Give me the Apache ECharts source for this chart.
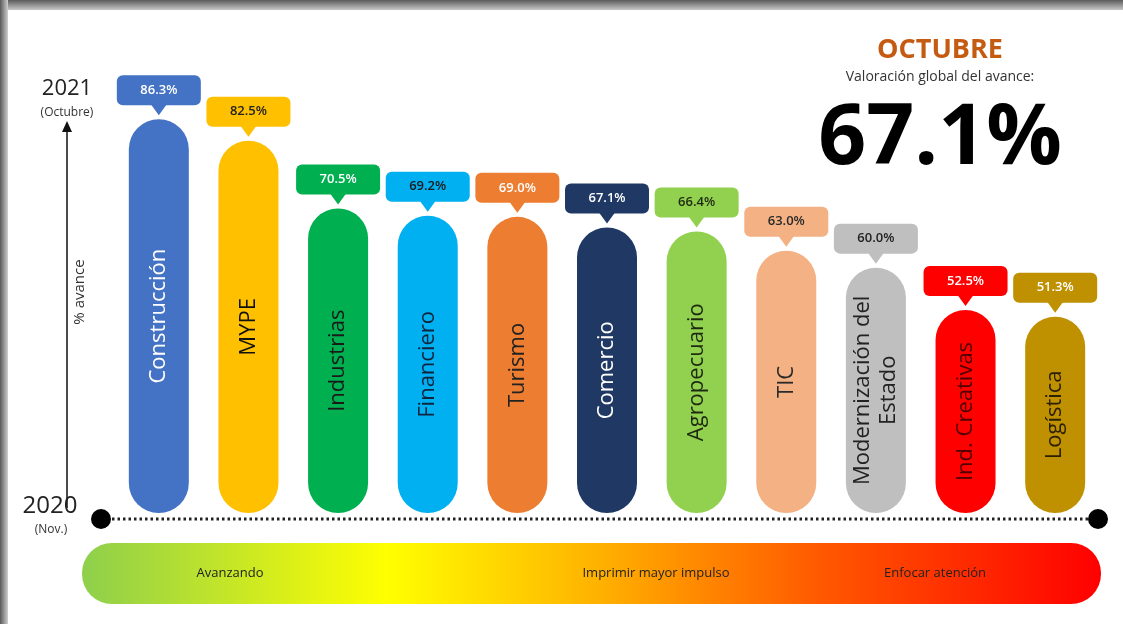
<!DOCTYPE html>
<html>
<head>
<meta charset="utf-8">
<script src="https://cdn.jsdelivr.net/npm/echarts@6/dist/echarts.min.js"></script>
<style>html,body{margin:0;padding:0;background:#fff}#c{width:1123px;height:624px}</style>
</head>
<body>
<div id="c"></div>
<script>
const categories = ['Construcción','MYPE','Industrias','Financiero','Turismo','Comercio','Agropecuario','TIC','Modernización del\nEstado','Ind. Creativas','Logística'];
const values = [86.3, 82.5, 70.5, 69.2, 69.0, 67.1, 66.4, 63.0, 60.0, 52.5, 51.3];
const barColors = ['#4472C4','#FFC000','#00B050','#00B0F0','#ED7D31','#1F3864','#92D050','#F4B183','#BFBFBF','#FF0000','#BF9000'];
const nameColors = ['#ffffff','#111111','#1a1a1a','#10243f','#222222','#ffffff','#1e2a10','#2a2a2a','#222222','#500000','#2b2000'];
const valueColors = ['#ffffff','#222222','#ffffff','#1a1a1a','#ffffff','#ffffff','#1e2a10','#2a2a2a','#222222','#ffffff','#ffffff'];
const zoneLabels = ['Avanzando','Imprimir mayor impulso','Enfocar atención'];

const chart = echarts.init(document.getElementById('c'));
const font = '"Open Sans", "Noto Sans", sans-serif';

const option = {
  backgroundColor: '#ffffff',
  animation: false,
  grid: {left: 114, right: 23, top: 42, bottom: 111},
  xAxis: {type: 'category', data: categories, show: false},
  yAxis: {type: 'value', min: 16.5, max: 100, show: false},
  series: [
    {
      type: 'bar',
      barWidth: 60,
      data: values.map((v, i) => ({
        value: v,
        itemStyle: {color: barColors[i], borderRadius: 30},
        label: {color: nameColors[i]}
      })),
      label: {
        show: true,
        position: 'inside',
        rotate: 90,
        fontFamily: font,
        fontSize: 22,
        lineHeight: 26,
        align: 'center',
        verticalAlign: 'middle',
        formatter: p => p.name
      }
    },
    {
      type: 'custom',
      z: 5,
      data: values.map((v, i) => [i, v]),
      renderItem: (params, api) => {
        const i = params.dataIndex;
        const p = api.coord([api.value(0), api.value(1)]);
        const x = p[0], top = p[1];
        const tipY = top - 4, boxB = tipY - 10, boxT = boxB - 30;
        const col = barColors[i];
        return {
          type: 'group',
          children: [
            {type: 'rect', shape: {x: x - 42, y: boxT, width: 84, height: 30, r: 6}, style: {fill: col}},
            {type: 'polygon', shape: {points: [[x - 8, boxB - 1], [x + 8, boxB - 1], [x, tipY]]}, style: {fill: col}},
            {type: 'text', style: {text: values[i].toFixed(1) + '%', x: x, y: boxT + 15, align: 'center', verticalAlign: 'middle', fill: valueColors[i], font: '600 13px ' + font}}
          ]
        };
      }
    }
  ],
  graphic: [
    {type: 'rect', shape: {x: 0, y: 0, width: 1123, height: 10}, style: {fill: new echarts.graphic.LinearGradient(0, 0, 0, 1, [{offset: 0, color: '#5a5a5a'}, {offset: 1, color: '#c8c8c8'}])}, z: 10},
    {type: 'rect', shape: {x: 0, y: 0, width: 8, height: 624}, style: {fill: new echarts.graphic.LinearGradient(0, 0, 1, 0, [{offset: 0, color: '#5a5a5a'}, {offset: 1, color: '#cfcfcf'}])}, z: 10},
    {type: 'text', x: 940, y: 50, style: {text: 'OCTUBRE', font: 'bold 27px ' + font, fill: '#C55A11', align: 'center', verticalAlign: 'middle'}},
    {type: 'text', x: 940, y: 77, style: {text: 'Valoración global del avance:', font: '14px ' + font, fill: '#333333', align: 'center', verticalAlign: 'middle'}},
    {type: 'text', x: 940, y: 140, style: {text: '67.1%', font: 'bold 84px ' + font, fill: '#000000', align: 'center', verticalAlign: 'middle', shadowColor: 'rgba(0,0,0,0.35)', shadowBlur: 4, shadowOffsetX: 2, shadowOffsetY: 2}},
    {type: 'text', x: 67, y: 89, style: {text: '2021', font: '22px ' + font, fill: '#222222', align: 'center', verticalAlign: 'middle'}},
    {type: 'text', x: 67, y: 113, style: {text: '(Octubre)', font: '12px ' + font, fill: '#333333', align: 'center', verticalAlign: 'middle'}},
    {type: 'line', shape: {x1: 67, y1: 508, x2: 67, y2: 128}, style: {stroke: '#111111', lineWidth: 1.5}},
    {type: 'polygon', shape: {points: [[62, 132], [72, 132], [67, 121]]}, style: {fill: '#111111'}},
    {type: 'text', x: 80, y: 292, rotation: Math.PI / 2, style: {text: '% avance', font: '15px ' + font, fill: '#333333', align: 'center', verticalAlign: 'middle'}},
    {type: 'text', x: 50, y: 506, style: {text: '2020', font: '24px ' + font, fill: '#222222', align: 'center', verticalAlign: 'middle'}},
    {type: 'text', x: 51, y: 530, style: {text: '(Nov.)', font: '12px ' + font, fill: '#333333', align: 'center', verticalAlign: 'middle'}},
    {type: 'line', shape: {x1: 101, y1: 519, x2: 1098, y2: 519}, style: {stroke: '#222222', lineWidth: 3, lineDash: [2.5, 3]}},
    {type: 'circle', shape: {cx: 101, cy: 519, r: 10}, style: {fill: '#000000'}},
    {type: 'circle', shape: {cx: 1098, cy: 519, r: 10}, style: {fill: '#000000'}},
    {type: 'rect', shape: {x: 82, y: 543, width: 1019, height: 61, r: 30}, style: {fill: new echarts.graphic.LinearGradient(0, 0, 1, 0, [
      {offset: 0, color: '#8ECF4C'}, {offset: 0.3, color: '#FFFF00'}, {offset: 0.5, color: '#FFB400'}, {offset: 0.72, color: '#FF5A00'}, {offset: 1, color: '#FF0000'}
    ])}},
    {type: 'text', x: 230, y: 573, style: {text: zoneLabels[0], font: '13px ' + font, fill: '#222222', align: 'center', verticalAlign: 'middle'}},
    {type: 'text', x: 656, y: 573, style: {text: zoneLabels[1], font: '13px ' + font, fill: '#222222', align: 'center', verticalAlign: 'middle'}},
    {type: 'text', x: 935, y: 573, style: {text: zoneLabels[2], font: '13px ' + font, fill: '#222222', align: 'center', verticalAlign: 'middle'}}
  ]
};
chart.setOption(option);
</script>
</body>
</html>
